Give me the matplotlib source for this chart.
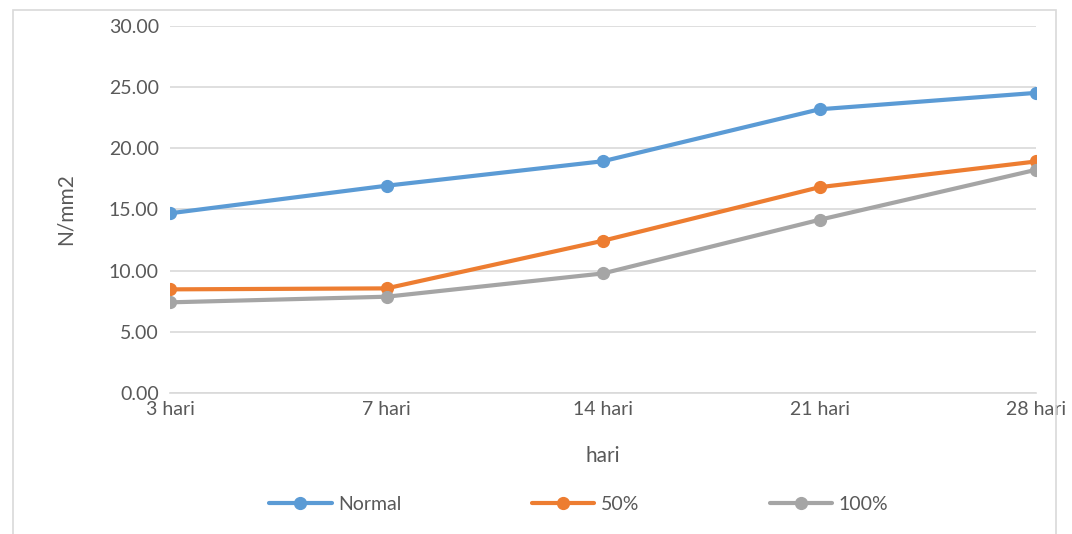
import matplotlib
matplotlib.use("Agg")
import matplotlib.pyplot as plt
from matplotlib.patches import Rectangle

plt.rcParams['font.family'] = ['Lato', 'DejaVu Sans']

categories = ["3 hari", "7 hari", "14 hari", "21 hari", "28 hari"]
normal = [14.67, 16.92, 18.92, 23.16, 24.50]
pct50 = [8.46, 8.54, 12.43, 16.80, 18.90]
pct100 = [7.40, 7.86, 9.76, 14.14, 18.22]
series_names = ["Normal", "50%", "100%"]
colors = ["#5B9BD5", "#ED7D31", "#A5A5A5"]
yticks = [0, 5, 10, 15, 20, 25, 30]

text_color = "#595959"
grid_color = "#D9D9D9"

W, H = 1072, 534
fig = plt.figure(figsize=(W / 100, H / 100), dpi=100)
ax = fig.add_axes([170 / W, 1 - 393 / H, (1036 - 170) / W, (393 - 25.5) / H])

# chart-area border
fig.add_artist(Rectangle((13 / W, -0.01), (1056 - 13) / W, 1 - 10 / H + 0.01,
                         transform=fig.transFigure, fill=False,
                         edgecolor=grid_color, linewidth=1.2))

x = list(range(len(categories)))
for vals, name, c in zip([normal, pct50, pct100], series_names, colors):
    ax.plot(x, vals, color=c, linewidth=3, marker='o', markersize=8.5,
            label=name, solid_capstyle='round', zorder=3)

ax.set_xlim(0, len(categories) - 1)
ax.set_ylim(0, 30)
ax.set_yticks(yticks)
ax.set_yticklabels([f"{v:.2f}" for v in yticks])
ax.set_xticks(x)
ax.set_xticklabels(categories)

ax.grid(axis='y', color=grid_color, linewidth=1.2, zorder=0)
for s in ['top', 'right', 'left']:
    ax.spines[s].set_visible(False)
ax.spines['bottom'].set_color(grid_color)
ax.spines['bottom'].set_linewidth(1.2)

ax.tick_params(axis='both', length=0, labelsize=14, colors=text_color)
ax.tick_params(axis='y', pad=8)
ax.tick_params(axis='x', pad=6)

ax.set_xlabel("hari", fontsize=15, color=text_color, labelpad=20)
ax.set_ylabel("N/mm2", fontsize=15, color=text_color, labelpad=24)

leg = fig.legend(loc='center', bbox_to_anchor=(0.540, 1 - 504 / H), ncol=3,
                 frameon=False, fontsize=14, handlelength=3.2,
                 columnspacing=6.7, handletextpad=0.35)
for t in leg.get_texts():
    t.set_color(text_color)

fig.savefig("out.png", dpi=100, facecolor='white')
